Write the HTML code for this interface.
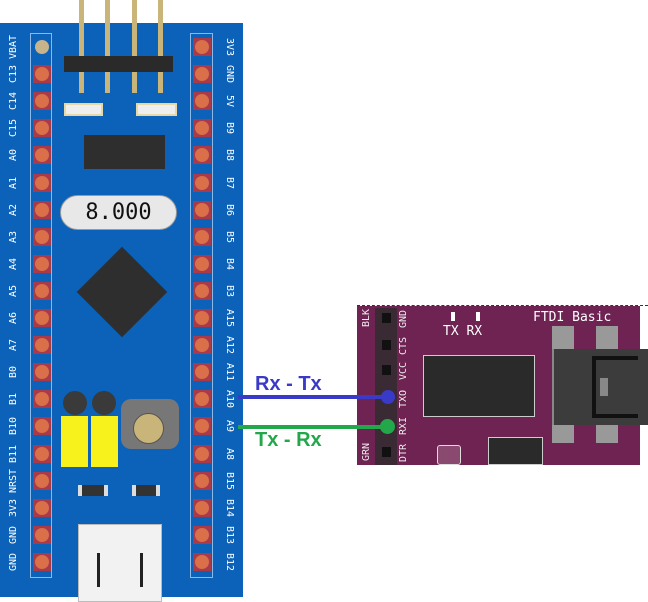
<!DOCTYPE html>
<html><head><style>
body{margin:0;width:648px;height:602px;background:#fff;position:relative;overflow:hidden;font-family:"DejaVu Sans Mono","Liberation Mono",monospace}
.a{position:absolute}
.lbl{position:absolute;color:#fff;font-size:10px;white-space:nowrap;width:40px;text-align:center;line-height:10px}
.sq{position:absolute;width:18px;height:18px;background:#a83a4a}
.pin{position:absolute;width:14px;height:14px;border-radius:50%;background:#d9704a}
.pl{position:absolute;color:#eee;font-size:10px;white-space:nowrap;width:30px;text-align:center;line-height:10px;transform:rotate(-90deg)}
</style></head><body>
<div class="a" style="left:0;top:23px;width:243px;height:574px;background:#0b62b8"></div>
<div class="a" style="left:30px;top:33px;width:22px;height:545px;border:1px solid #8ab8e8;box-sizing:border-box"></div>
<div class="a" style="left:190px;top:33px;width:23px;height:545px;border:1px solid #8ab8e8;box-sizing:border-box"></div>
<div id="pins"></div>
<div class="a" style="left:79px;top:0;width:5px;height:93px;background:#c9b47a"></div>
<div class="a" style="left:105px;top:0;width:5px;height:93px;background:#c9b47a"></div>
<div class="a" style="left:132px;top:0;width:5px;height:93px;background:#c9b47a"></div>
<div class="a" style="left:158px;top:0;width:5px;height:93px;background:#c9b47a"></div>
<div class="a" style="left:64px;top:56px;width:109px;height:16px;background:#2a2a2a"></div>
<div class="a" style="left:64px;top:103px;width:39px;height:13px;background:#eee;border:2px solid #e8d8a8;box-sizing:border-box"></div>
<div class="a" style="left:136px;top:103px;width:41px;height:13px;background:#eee;border:2px solid #e8d8a8;box-sizing:border-box"></div>
<div class="a" style="left:84px;top:135px;width:81px;height:34px;background:#2e2e2e"></div>
<div class="a" style="left:60px;top:195px;width:117px;height:35px;border-radius:18px;background:#e8e8e8;border:1px solid #999;box-sizing:border-box;text-align:center;font-size:22px;line-height:33px;color:#111">8.000</div>
<div class="a" style="left:90px;top:260px;width:64px;height:64px;background:#2e2e2e;transform:rotate(45deg)"></div>
<div class="a" style="left:63px;top:391px;width:24px;height:24px;border-radius:50%;background:#3a3a3a"></div>
<div class="a" style="left:92px;top:391px;width:24px;height:24px;border-radius:50%;background:#3a3a3a"></div>
<div class="a" style="left:61px;top:416px;width:27px;height:51px;background:#f7f21c"></div>
<div class="a" style="left:91px;top:416px;width:27px;height:51px;background:#f7f21c"></div>
<div class="a" style="left:121px;top:399px;width:58px;height:50px;background:#777;border-radius:10px"></div>
<div class="a" style="left:133px;top:413px;width:29px;height:29px;border-radius:50%;background:#c9b47a;border:1px solid #555"></div>
<div class="a" style="left:78px;top:485px;width:30px;height:11px;background:#333;border-left:4px solid #ddd;border-right:4px solid #ddd;box-sizing:border-box"></div>
<div class="a" style="left:132px;top:485px;width:28px;height:11px;background:#333;border-left:4px solid #ddd;border-right:4px solid #ddd;box-sizing:border-box"></div>
<div class="a" style="left:78px;top:524px;width:84px;height:78px;background:#f2f2f2;border:1px solid #bbb;box-sizing:border-box"></div>
<div class="a" style="left:97px;top:553px;width:3px;height:34px;background:#222"></div>
<div class="a" style="left:140px;top:553px;width:3px;height:34px;background:#222"></div>
<!-- FTDI -->
<div class="a" style="left:357px;top:306px;width:283px;height:159px;background:#6e2352"></div>
<div class="a" style="left:357px;top:305px;width:291px;border-top:1px dashed #333"></div>
<div class="a" style="left:375px;top:308px;width:22px;height:157px;background:#3a2a33"></div>
<div class="a" style="left:423px;top:355px;width:112px;height:62px;background:#2a2a2a;border:1px solid #ccc;box-sizing:border-box"></div>
<div class="a" style="left:552px;top:326px;width:22px;height:117px;background:#999"></div>
<div class="a" style="left:596px;top:326px;width:22px;height:117px;background:#999"></div>
<div class="a" style="left:552px;top:349px;width:96px;height:76px;background:#3c3c3c;border-left:2px solid #888"></div>
<div class="a" style="left:592px;top:356px;width:46px;height:62px;border:4px solid #111;border-right:none;box-sizing:border-box"></div>
<div class="a" style="left:600px;top:378px;width:8px;height:18px;background:#888"></div>
<div class="a" style="left:437px;top:445px;width:22px;height:18px;background:#8a4a70;border:1px solid #ddd;border-radius:3px"></div>
<div class="a" style="left:488px;top:437px;width:53px;height:26px;background:#2a2a2a;border:1px solid #ccc"></div>
<div class="a" style="left:533px;top:310px;color:#fff;font-size:13px;line-height:16px">FTDI Basic</div>
<div class="a" style="left:443px;top:324px;color:#fff;font-size:13px;line-height:16px">TX RX</div>
<div class="a" style="left:451px;top:312px;width:4px;height:9px;background:#fff"></div>
<div class="a" style="left:476px;top:312px;width:4px;height:9px;background:#fff"></div>
<div class="pl" style="left:352px;top:313px">BLK</div>
<div class="pl" style="left:352px;top:447px">GRN</div>
<div class="pl" style="left:389px;top:314px">GND</div>
<div class="pl" style="left:389px;top:341px">CTS</div>
<div class="pl" style="left:389px;top:366px">VCC</div>
<div class="pl" style="left:389px;top:394px">TXO</div>
<div class="pl" style="left:389px;top:421px">RXI</div>
<div class="pl" style="left:389px;top:448px">DTR</div>
<div class="a" style="left:382px;top:313px;width:9px;height:10px;background:#111"></div>
<div class="a" style="left:382px;top:340px;width:9px;height:10px;background:#111"></div>
<div class="a" style="left:382px;top:365px;width:9px;height:10px;background:#111"></div>
<div class="a" style="left:382px;top:447px;width:9px;height:10px;background:#111"></div>
<div class="a" style="left:238px;top:395px;width:150px;height:4px;background:#3a3ac8"></div>
<div class="a" style="left:381px;top:390px;width:14px;height:14px;border-radius:50%;background:#3a3ac8"></div>
<div class="a" style="left:238px;top:425px;width:150px;height:4px;background:#22a84a"></div>
<div class="a" style="left:380px;top:419px;width:15px;height:15px;border-radius:50%;background:#22a84a"></div>
<div class="a" style="left:255px;top:373px;color:#3a3ac8;font:bold 20px 'Liberation Sans',sans-serif">Rx - Tx</div>
<div class="a" style="left:255px;top:429px;color:#22a84a;font:bold 20px 'Liberation Sans',sans-serif">Tx - Rx</div>
<script>
var L=["VBAT","C13","C14","C15","A0","A1","A2","A3","A4","A5","A6","A7","B0","B1","B10","B11","NRST","3V3","GND","GND"];
var R=["3V3","GND","5V","B9","B8","B7","B6","B5","B4","B3","A15","A12","A11","A10","A9","A8","B15","B14","B13","B12"];
var h="";
for(var i=0;i<20;i++){var y=47+i*27.1;
if(i>0)h+='<div class="sq" style="left:33px;top:'+(y-9)+'px"></div>';
h+='<div class="sq" style="left:193px;top:'+(y-9)+'px"></div>';
h+='<div class="pin" style="left:35px;top:'+(y-7)+'px;'+(i==0?'background:#c8b48a':'')+'"></div>';
h+='<div class="pin" style="left:195px;top:'+(y-7)+'px"></div>';
h+='<div class="lbl" style="left:-6px;top:'+(y-5)+'px;transform:rotate(-90deg)">'+L[i]+'</div>';
h+='<div class="lbl" style="left:209px;top:'+(y-5)+'px;transform:rotate(90deg)">'+R[i]+'</div>';}
document.getElementById("pins").innerHTML=h;
</script>
</body></html>
